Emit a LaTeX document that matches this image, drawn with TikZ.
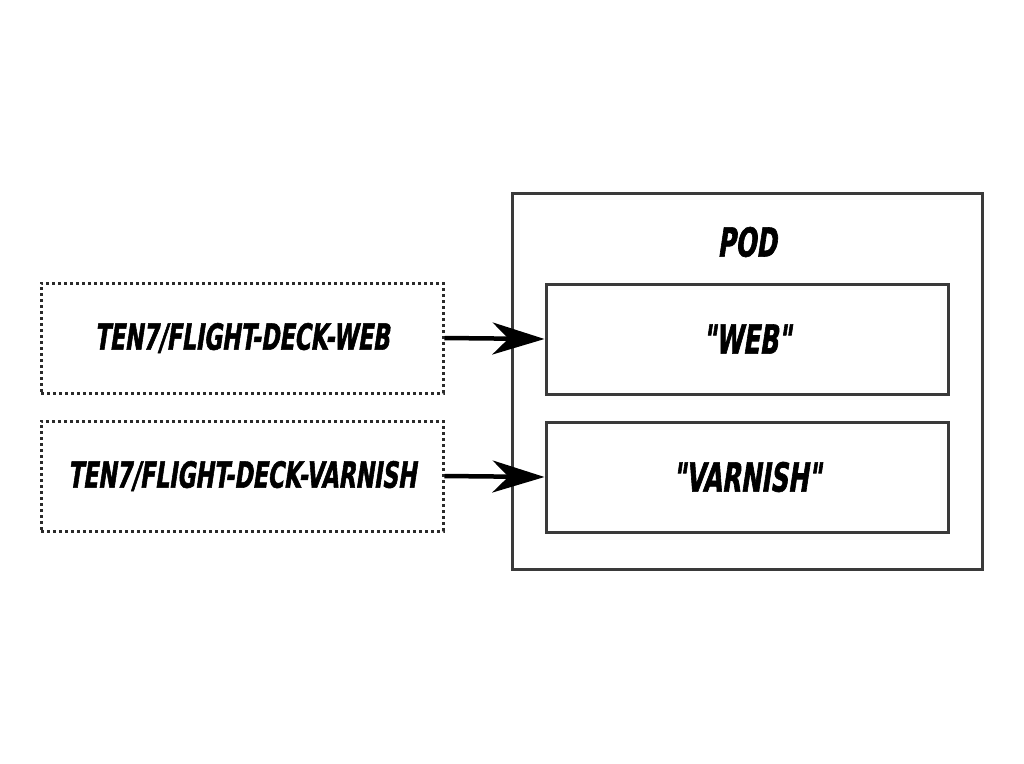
\documentclass[tikz,border=0pt]{standalone}
\usepackage{fontspec}
\usepackage{tikz}
\usetikzlibrary{arrows.meta}
\newfontfamily\podfont[FakeStretch=0.68,FakeSlant=0.15,FakeBold=1.5]{DejaVu Sans Condensed Bold}
\definecolor{boxgray}{HTML}{3A3A3A}
\definecolor{dotgray}{HTML}{2A2A2A}
\tikzset{
    imagebox/.style={draw=dotgray,line width=3pt,dash pattern=on 3pt off 3pt,minimum width=402pt,minimum height=110pt,font=\podfont\fontsize{36}{36}\selectfont},
    containerbox/.style={draw=boxgray,line width=3pt,minimum width=402pt,minimum height=110pt,font=\podfont\fontsize{40}{40}\selectfont},
    pull/.style={line width=4.5pt,-{Stealth[length=52pt,width=32pt,inset=16pt]}}
}
\begin{document}
\begin{tikzpicture}[x=1pt,y=-1pt]
    \useasboundingbox (0,0) rectangle (1024,763);
    % Pod with its containers
    \node[draw=boxgray,line width=3pt,minimum width=470pt,minimum height=376pt] (pod) at (747,381) {};
    \node[font=\podfont\fontsize{40}{40}\selectfont] (podlabel) at (747,242) {POD};
    \node[containerbox] (web) at (747,339) {"WEB"};
    \node[containerbox] (varnish) at (747,477) {"VARNISH"};

    % Images
    \node[imagebox] (webimg) at (242,338) {TEN7/FLIGHT-DECK-WEB};
    \node[imagebox] (varnishimg) at (242,476) {TEN7/FLIGHT-DECK-VARNISH};

    % Connections
    \draw[pull] (webimg.east) -- (web.west);
    \draw[pull] (varnishimg.east) -- (varnish.west);
\end{tikzpicture}
\end{document}
